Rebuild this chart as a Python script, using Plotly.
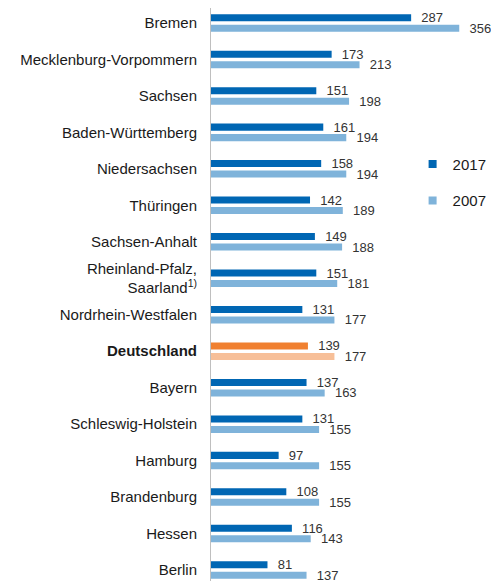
import plotly.graph_objects as go

categories = ["Bremen", "Mecklenburg-Vorpommern", "Sachsen", "Baden-Württemberg",
              "Niedersachsen", "Thüringen", "Sachsen-Anhalt",
              "Rheinland-Pfalz,<br>Saarland<sup>1)</sup>", "Nordrhein-Westfalen",
              "<b>Deutschland</b>", "Bayern", "Schleswig-Holstein", "Hamburg",
              "Brandenburg", "Hessen", "Berlin"]
v2017 = [287, 173, 151, 161, 158, 142, 149, 151, 131, 139, 137, 131, 97, 108, 116, 81]
v2007 = [356, 213, 198, 194, 194, 189, 188, 181, 177, 177, 163, 155, 155, 155, 143, 137]

DARK, LIGHT = "#0066b3", "#7fb3da"
ODARK, OLIGHT = "#f08030", "#f7bf98"
c2017 = [ODARK if "Deutschland" in c else DARK for c in categories]
c2007 = [OLIGHT if "Deutschland" in c else LIGHT for c in categories]

fig = go.Figure()
fig.add_trace(go.Bar(y=categories, x=v2017, orientation="h", name="2017",
                     marker=dict(color=c2017, line_width=0),
                     text=v2017, texttemplate="  %{x}", textposition="outside",
                     constraintext="none",
                     textfont=dict(size=13, color="#333333"),
                     showlegend=False, cliponaxis=False))
fig.add_trace(go.Bar(y=categories, x=v2007, orientation="h", name="2007",
                     marker=dict(color=c2007, line_width=0),
                     text=v2007, texttemplate="  %{x}", textposition="outside",
                     constraintext="none",
                     textfont=dict(size=13, color="#333333"),
                     showlegend=False, cliponaxis=False))
# legend entries
fig.add_trace(go.Scatter(x=[None], y=[None], mode="markers", name="2017",
                         marker=dict(symbol="square", size=8, color=DARK),
                         legendgroup="a"))
fig.add_trace(go.Scatter(x=[None], y=[None], mode="markers", name="2007",
                         marker=dict(symbol="square", size=8, color=LIGHT),
                         legendgroup="b"))

fig.update_layout(
    width=491, height=581,
    margin=dict(l=203, r=0, t=0, b=0),
    paper_bgcolor="white", plot_bgcolor="white",
    barmode="group", bargap=0.425, bargroupgap=0.33,
    font=dict(family="Liberation Sans, Arial, sans-serif", size=15, color="#1a1a1a"),
    showlegend=True,
    legend=dict(x=0.70, y=0.7595, xanchor="left", yanchor="top",
                font=dict(size=15, color="#1a1a1a"),
                tracegroupgap=14, bgcolor="rgba(0,0,0,0)"),
)
fig.update_xaxes(range=[0, 413], visible=False, showgrid=False)
fig.update_yaxes(type="category", categoryorder="array", categoryarray=categories,
                 range=[15.52, -0.41], showline=True, linecolor="#bfbfbf", linewidth=1,
                 ticks="", ticklabelstandoff=10, showgrid=False,
                 tickfont=dict(size=15, color="#1a1a1a"))

fig.write_html("out.html")
